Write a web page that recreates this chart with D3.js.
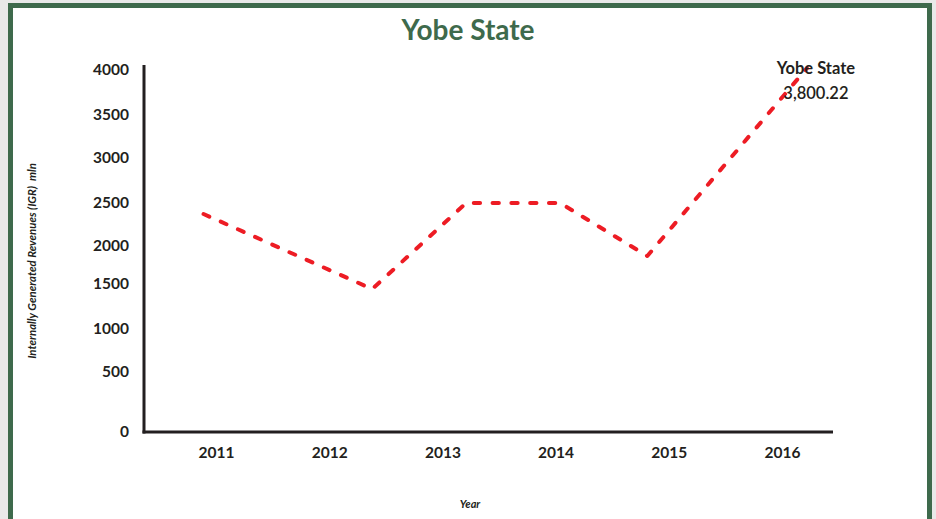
<!DOCTYPE html>
<html>
<head>
<meta charset="utf-8">
<script src="https://cdn.jsdelivr.net/npm/d3@7"></script>
<style>
  html, body { margin: 0; padding: 0; background: #e9e9e9; }
  svg { display: block; font-family: Lato, "Open Sans", sans-serif; }
</style>
</head>
<body>
<svg id="chart" width="936" height="519"></svg>
<script>
// ---- data ----
const chartTitle = "Yobe State";
const years = [2011, 2012, 2013, 2014, 2015, 2016];
// positions of the line's vertices along the year axis, as drawn in the source
const lineYears = [2010.89, 2012.38, 2013.21, 2014.04, 2014.81, 2016.22];
const igrValues = [2372, 1444, 2500, 2500, 1868, 4020];
const yTicks = [0, 500, 1000, 1500, 2000, 2500, 3000, 3500, 4000];
const annotationName = "Yobe State";
const annotationValue = "3,800.22";
const yTitle = "Internally Generated Revenues (IGR)  mln";
const xTitle = "Year";

// ---- layout ----
const svg = d3.select("#chart");
const green = "#3e6a4c";
const ink = "#231f20";

// frame
svg.append("rect").attr("x", 10.5).attr("y", 5.5).attr("width", 919).attr("height", 540)
  .attr("fill", "#ffffff").attr("stroke", green).attr("stroke-width", 5);

// scales
const x = d3.scaleLinear().domain([2011, 2016]).range([216, 782]);
// the source's value axis is not evenly spaced; keep its tick positions
const y = d3.scaleLinear().domain(yTicks).range([432, 372, 329, 284, 246, 203, 158, 115, 70]);

// title
svg.append("text").attr("x", 468).attr("y", 40).attr("text-anchor", "middle")
  .attr("fill", green).attr("font-size", 28).attr("font-weight", 700).text(chartTitle);

// axes lines
const axisG = svg.append("g");
axisG.append("line").attr("x1", 144).attr("x2", 144).attr("y1", 65).attr("y2", y(0) + 1.5)
  .attr("stroke", ink).attr("stroke-width", 3);
axisG.append("line").attr("x1", 142.5).attr("x2", 833).attr("y1", y(0)).attr("y2", y(0))
  .attr("stroke", ink).attr("stroke-width", 3);

// y tick labels
const yAxis = d3.axisLeft(y).tickValues(yTicks).tickSize(0).tickPadding(0).tickFormat(d3.format("d"));
const yg = svg.append("g").attr("transform", "translate(129,0)").call(yAxis);
yg.select(".domain").remove();
yg.selectAll("text").attr("font-family", "Lato, sans-serif").attr("font-size", 15.5)
  .attr("font-weight", 700).attr("fill", ink);

// x tick labels
const xAxis = d3.axisBottom(x).tickValues(years).tickSize(0).tickPadding(0).tickFormat(d3.format("d"));
const xg = svg.append("g").attr("transform", "translate(0,447)").call(xAxis);
xg.select(".domain").remove();
xg.selectAll("text").attr("font-family", "Lato, sans-serif").attr("font-size", 15.5)
  .attr("font-weight", 700).attr("fill", ink);

// axis titles
svg.append("text").attr("x", 470).attr("y", 508).attr("text-anchor", "middle")
  .attr("font-size", 11).attr("font-style", "italic").attr("font-weight", 700)
  .attr("fill", ink).text(xTitle);
svg.append("text").attr("transform", "translate(35.5,261) rotate(-90)").attr("text-anchor", "middle")
  .attr("font-size", 11.4).attr("font-style", "italic").attr("font-weight", 700)
  .attr("fill", ink).style("white-space", "pre").text(yTitle);

// line
const pts = lineYears.map((yr, i) => [yr, igrValues[i]]);
const line = d3.line().x(d => x(d[0])).y(d => y(d[1]));
svg.append("path").datum(pts).attr("d", line).attr("fill", "none")
  .attr("stroke", "#ed1c24").attr("stroke-width", 4).attr("stroke-linecap", "round")
  .attr("stroke-linejoin", "round").attr("stroke-dasharray", "6.3,12.5");

// end annotation
const last = pts[pts.length - 1];
svg.append("text").attr("x", x(last[0]) + 9).attr("y", y(last[1]) + 6).attr("text-anchor", "middle")
  .attr("font-size", 16.5).attr("font-weight", 700).attr("fill", ink).text(annotationName);
svg.append("text").attr("x", x(last[0]) + 9).attr("y", y(last[1]) + 31).attr("text-anchor", "middle")
  .attr("font-size", 16.5).attr("font-weight", 600).attr("fill", ink).text(annotationValue);
</script>
</body>
</html>
